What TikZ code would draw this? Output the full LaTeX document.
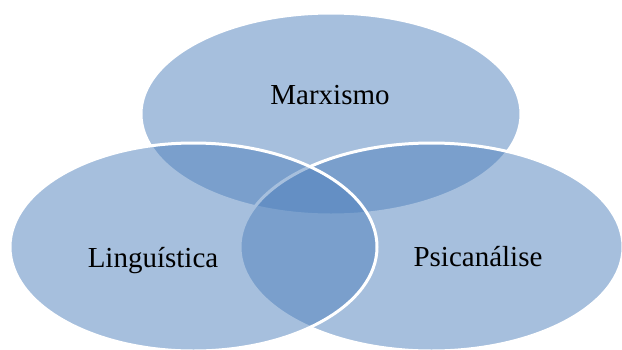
\documentclass[tikz,border=0pt]{standalone}
\usepackage{fontspec}
\setmainfont{Liberation Serif}
\definecolor{vennblue}{HTML}{4F81BD}
\tikzset{
  venn/.style={fill=vennblue, fill opacity=0.5, draw=white, line width=3pt},
  label/.style={anchor=base, text=black, font=\fontsize{29}{34}\selectfont, inner sep=0pt}
}
\begin{document}
\begin{tikzpicture}[x=1pt,y=-1pt]
  \useasboundingbox (0,0) rectangle (622,349);
  \clip (0,0) rectangle (622,349);
  \fill[white] (0,0) rectangle (622,349);
  \path[venn] (331,114) ellipse [x radius=190, y radius=101];
  \path[venn] (431.5,247) ellipse [x radius=191.5, y radius=104];
  \path[venn] (193.5,247) ellipse [x radius=183.5, y radius=104];
  \node[label] (marx) at (330,104) {Marxismo};
  \node[label] (ling) at (153,267) {Linguística};
  \node[label] (psic) at (478,266) {Psicanálise};
\end{tikzpicture}
\end{document}
